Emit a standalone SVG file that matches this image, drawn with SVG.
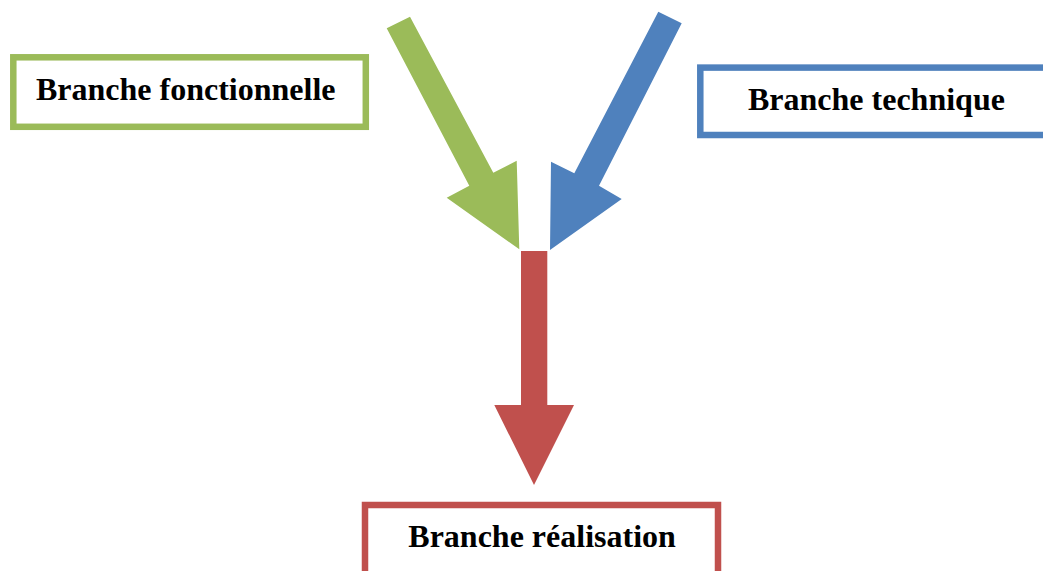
<svg xmlns="http://www.w3.org/2000/svg" width="1043" height="571" viewBox="0 0 1043 571">
  <style>
    .box { fill: #ffffff; stroke-width: 6.5; }
    .label { font-family: "Liberation Serif", "Times New Roman", serif; font-weight: bold; font-size: 32px; fill: #000000; }
  </style>
  <rect width="1043" height="571" fill="#ffffff"/>

  <g id="connectors">
    <!-- functional branch arrow -->
    <polygon fill="#9BBB59" points="386.7,28.3 410,16.7 493.3,172.7 516.7,160.7 519.3,249.3 446.7,197.7 469.3,185.7"/>
    <!-- technical branch arrow -->
    <polygon fill="#4F81BD" points="658.3,11.7 681.7,23.3 599,185.7 621.7,199 550,250 551,161.7 574.3,173.3"/>
    <!-- realisation arrow -->
    <polygon fill="#C0504D" points="521,251 547.3,251 547.3,405 574,405 534,485 494.3,405 521,405"/>
  </g>

  <g id="node-fonctionnelle">
    <rect class="box" stroke="#9BBB59" x="13.3" y="57.3" width="352.5" height="69.5"/>
    <text class="label" x="36" y="100">Branche fonctionnelle</text>
  </g>

  <g id="node-technique">
    <rect class="box" stroke="#4F81BD" x="700.3" y="67.6" width="360" height="67.4"/>
    <text class="label" x="748" y="110">Branche technique</text>
  </g>

  <g id="node-realisation">
    <rect class="box" stroke="#C0504D" x="365" y="505" width="353" height="90"/>
    <text class="label" x="408.3" y="547">Branche réalisation</text>
  </g>
</svg>
